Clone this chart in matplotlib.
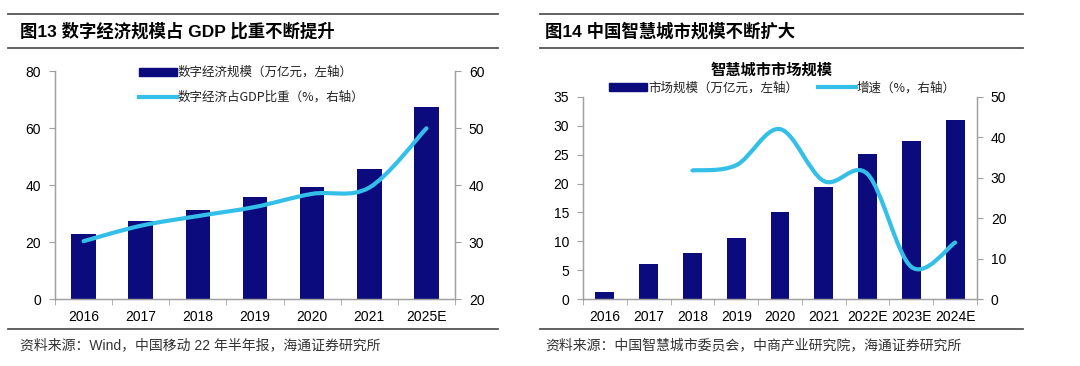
import matplotlib
matplotlib.use("Agg")
import matplotlib.pyplot as plt
from matplotlib.lines import Line2D
from matplotlib.path import Path
from matplotlib.patches import PathPatch, Patch
import numpy as np

plt.rcParams['font.family'] = ['Liberation Sans', 'Noto Sans CJK SC', 'DejaVu Sans']

# chart 13 data
years13 = ['2016', '2017', '2018', '2019', '2020', '2021', '2025E']
scale13 = [22.8, 27.4, 31.4, 36.0, 39.3, 45.6, 67.6]      # 万亿元
share13 = [30.2, 32.9, 34.6, 36.2, 38.5, 39.6, 50.0]      # %

# chart 14 data
years14 = ['2016', '2017', '2018', '2019', '2020', '2021', '2022E', '2023E', '2024E']
scale14 = [1.2, 6.1, 8.0, 10.6, 15.0, 19.4, 25.1, 27.3, 31.0]
growth14 = [None, None, 31.8, 33.1, 42.0, 29.2, 30.9, 8.0, 14.0]

NAVY = '#0b0b7d'
CYAN = '#33bfe8'
GRAY = '#a0a0a0'
CJK = ['Noto Sans CJK SC', 'DejaVu Sans']

W, H = 1080, 366
fig = plt.figure(figsize=(W / 100, H / 100), dpi=100)


def fx(px):
    return px / W


def fy(py):
    return 1 - py / H


def smooth_line(ax, xs, ys, **kw):
    # Catmull-Rom style smoothing, drawn as cubic bezier segments
    pts = np.column_stack([xs, ys]).astype(float)
    verts = [pts[0]]
    codes = [Path.MOVETO]
    n = len(pts)
    for i in range(n - 1):
        p0 = pts[i - 1] if i > 0 else pts[i]
        p1, p2 = pts[i], pts[i + 1]
        p3 = pts[i + 2] if i + 2 < n else pts[i + 1]
        c1 = p1 + (p2 - p0) / 6
        c2 = p2 - (p3 - p1) / 6
        verts += [c1, c2, p2]
        codes += [Path.CURVE4] * 3
    ax.add_patch(PathPatch(Path(verts, codes), fill=False, **kw))


def style_axes(ax, ax2, n):
    for a in (ax, ax2):
        a.spines['top'].set_visible(False)
        for s in ('left', 'right', 'bottom'):
            a.spines[s].set_color(GRAY)
            a.spines[s].set_linewidth(0.9)
    ax.set_xlim(-0.5, n - 0.5)
    ax.set_xticks(range(n))
    ax.set_xticks(np.arange(-0.5, n, 1), minor=True)
    ax.tick_params(axis='x', which='major', length=0, pad=8, labelsize=10)
    ax.tick_params(axis='x', which='minor', length=4, color=GRAY, direction='out')
    ax.tick_params(axis='y', length=4, color=GRAY, labelsize=10, pad=6)
    ax2.tick_params(axis='y', length=4, color=GRAY, labelsize=10, pad=6)


def frame_lines(x0, x1, title):
    for y in (14, 48, 329):
        fig.add_artist(Line2D([fx(x0), fx(x1)], [fy(y), fy(y)], color='#555555', lw=1.3))
    fig.text(fx(x0 + 12), fy(31), title, fontsize=12.5, fontweight='bold',
             va='center', ha='left', family=['Liberation Sans', 'Noto Sans CJK SC'])


# ---------- 图13 ----------
ax = fig.add_axes([fx(55), fy(299.3), fx(400), (299.3 - 71.3) / H])
ax2 = ax.twinx()
x = np.arange(len(years13))
ax.bar(x, scale13, width=0.43, color=NAVY, zorder=2)
smooth_line(ax2, x, share13, color=CYAN, lw=3, zorder=3, capstyle='round')
ax.set_ylim(0, 80)
ax.set_yticks([0, 20, 40, 60, 80])
ax2.set_ylim(20, 60)
ax2.set_yticks([20, 30, 40, 50, 60])
ax.set_xticklabels(years13)
style_axes(ax, ax2, len(years13))
h1 = Patch(color=NAVY)
h2 = Line2D([], [], color=CYAN, lw=3)
ax.legend([h1, h2], ['数字经济规模（万亿元，左轴）', '数字经济占GDP比重（%，右轴）'],
          loc='upper left', bbox_to_anchor=(fx(133 - 55) / fx(400), 1.05), frameon=False,
          prop={'family': CJK, 'size': 9}, handlelength=3.0, handleheight=0.6,
          handletextpad=0.1, labelspacing=0.95, borderpad=0, labelcolor='#222222')
frame_lines(8, 498, '图13 数字经济规模占 GDP 比重不断提升')
fig.text(fx(20), fy(345), '资料来源：Wind，中国移动 22 年半年报，海通证券研究所',
         fontsize=10, va='center', ha='left', color='#333333',
         family=['Liberation Sans', 'Noto Sans CJK SC'])

# ---------- 图14 ----------
bx = fig.add_axes([fx(583), fy(299.3), fx(394), (299.3 - 96.7) / H])
bx2 = bx.twinx()
x = np.arange(len(years14))
bx.bar(x, scale14, width=0.43, color=NAVY, zorder=2)
gx = [i for i, v in enumerate(growth14) if v is not None]
gy = [v for v in growth14 if v is not None]
smooth_line(bx2, gx, gy, color=CYAN, lw=3, zorder=3, capstyle='round')
bx.set_ylim(0, 35)
bx.set_yticks(range(0, 36, 5))
bx2.set_ylim(0, 50)
bx2.set_yticks(range(0, 51, 10))
bx.set_xticklabels(years14)
style_axes(bx, bx2, len(years14))
fig.text(fx(772), fy(70), '智慧城市市场规模', fontsize=11, fontweight='bold',
         ha='center', va='center', family=CJK)
h1 = Patch(color=NAVY)
h2 = Line2D([], [], color=CYAN, lw=3)
bx.legend([h1, h2], ['市场规模（万亿元，左轴）', '增速（%，右轴）'],
          loc='center left', bbox_to_anchor=((603 - 583) / 394, 1 + (96.7 - 88) / (299.3 - 96.7)),
          frameon=False, ncol=2, columnspacing=1.6,
          prop={'family': CJK, 'size': 9}, handlelength=3.0, handleheight=0.6,
          handletextpad=0.1, borderpad=0, labelcolor='#222222')
frame_lines(540, 1023, '图14 中国智慧城市规模不断扩大')
fig.texts[-1].set_x(fx(545))
fig.text(fx(545), fy(345), '资料来源：中国智慧城市委员会，中商产业研究院，海通证券研究所',
         fontsize=10, va='center', ha='left', color='#333333', family=CJK)

fig.savefig('out.png', dpi=100)
